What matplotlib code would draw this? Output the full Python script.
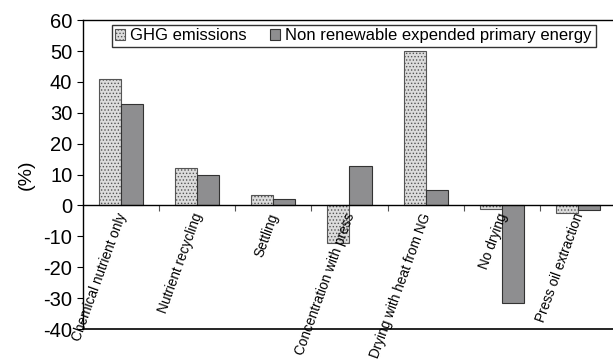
import numpy as np
import matplotlib.pyplot as plt

plt.rcParams['font.family'] = ['Liberation Sans', 'DejaVu Sans']
plt.rcParams['hatch.linewidth'] = 0.6

categories = ["Chemical nutrient only", "Nutrient recycling", "Settling",
              "Concentration with press", "Drying with heat from NG",
              "No drying", "Press oil extraction"]
ghg = [41, 12, 3.5, -12, 50, -1, -2.3]
nre = [33, 9.8, 2, 12.7, 5, -31.5, -1.5]
yticks = [-40, -30, -20, -10, 0, 10, 20, 30, 40, 50, 60]

fig = plt.figure(figsize=(6.13, 3.6), dpi=100)
ax = fig.add_axes([0.135, 0.086, 0.87, 0.858])

x = np.arange(len(categories))
w = 0.29
ax.bar(x - w/2, ghg, w, facecolor='#dcdcdc', edgecolor='#555555', hatch='.....',
       linewidth=0.8, label='GHG emissions')
ax.bar(x + w/2, nre, w, facecolor='#8e8e90', edgecolor='#333333',
       linewidth=0.8, label='Non renewable expended primary energy')

ax.set_xlim(-0.5, len(categories) - 0.5)
ax.set_ylim(-40, 60)
ax.set_yticks(yticks)
ax.set_yticklabels([str(v) for v in yticks], fontsize=14.5)
ax.set_ylabel('(%)', fontsize=14, labelpad=6)

ax.spines['right'].set_visible(False)
ax.spines['bottom'].set_position(('data', 0))
ax.axhline(-40, color='black', linewidth=1.2, clip_on=False)
for s in ['left', 'top', 'bottom']:
    ax.spines[s].set_linewidth(1.0)

ax.set_xticks(x[1:] - 0.5)
ax.set_xticklabels([])
ax.tick_params(axis='x', direction='out', length=4, color='#555555')
ax.tick_params(axis='y', direction='out', length=4)
for xi, lab in zip(x, categories):
    ax.text(xi + 0.02, -2.6, lab, rotation=70, ha='right', va='center',
            rotation_mode='anchor', fontsize=9.8)

leg = ax.legend(loc='upper center', ncol=2, fontsize=12, frameon=True,
                fancybox=False, edgecolor='black', handlelength=0.6,
                handleheight=0.6, handletextpad=0.3, columnspacing=1.4,
                borderpad=0.22, borderaxespad=0, bbox_to_anchor=(0.508, 0.985))
leg.get_frame().set_linewidth(1.0)

fig.savefig("out.png", dpi=100)
